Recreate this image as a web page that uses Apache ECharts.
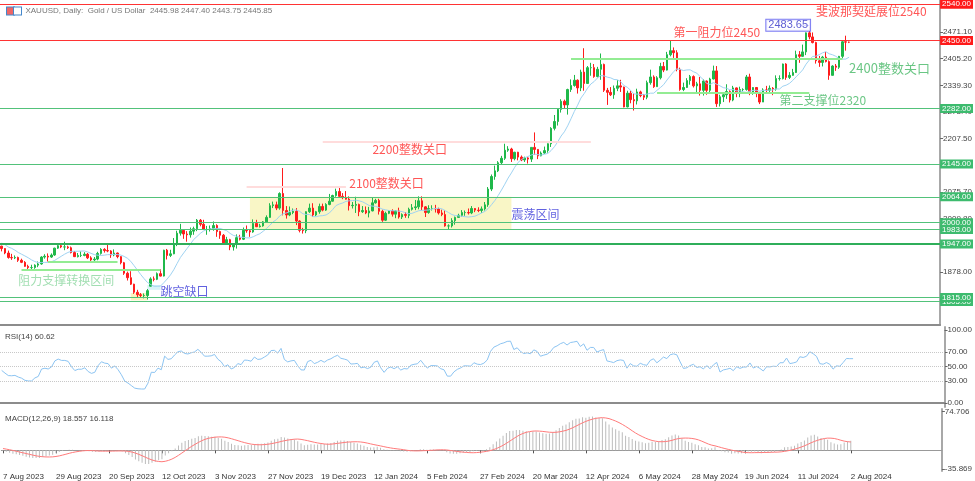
<!DOCTYPE html>
<html><head><meta charset="utf-8">
<script src="https://cdn.jsdelivr.net/npm/echarts@6/dist/echarts.min.js"></script>
<style>html,body{margin:0;padding:0;background:#fff}#c{width:975px;height:481px}</style>
</head><body><div id="c"></div>
<script>
// ---- DATA (XAUUSD daily, 7 Aug 2023 .. 2 Aug 2024) ----
const opens = [1942,1936,1925,1914,1913,1914,1907,1902,1892,1889,1889,1895,1898,1915,1917,1915,1920,1937,1943,1940,
1940,1938,1926,1916,1919,1919,1922,1913,1908,1910,1924,1934,1931,1930,1920,1925,1916,1901,1875,1864,
1848,1828,1822,1820,1820,1843,1861,1860,1874,1868,1932,1919,1923,1948,1974,1981,1972,1970,1979,1985,
2006,1996,1983,1983,1985,1993,1978,1969,1950,1958,1940,1946,1963,1959,1981,1980,1977,1998,1990,1992,
2002,2013,2042,2044,2036,2072,2030,2019,2025,2028,2004,1981,1980,2027,2036,2019,2027,2040,2031,2045,
2053,2067,2077,2065,2062,2058,2042,2043,2045,2027,2030,2024,2029,2049,2055,2028,2006,2023,2029,2021,
2029,2014,2020,2018,2033,2037,2039,2054,2039,2025,2035,2035,2034,2024,2020,1992,1992,2005,2013,2018,
2025,2025,2024,2035,2031,2030,2034,2044,2083,2114,2128,2148,2159,2179,2182,2158,2174,2162,2155,2160,
2157,2186,2181,2165,2172,2178,2195,2233,2250,2280,2300,2291,2329,2339,2352,2333,2372,2344,2383,2383,
2361,2379,2391,2327,2322,2316,2332,2338,2335,2286,2320,2304,2301,2323,2314,2310,2346,2360,2336,2358,
2386,2377,2415,2425,2420,2379,2329,2334,2351,2361,2338,2343,2327,2350,2327,2355,2375,2294,2311,2316,
2324,2303,2333,2319,2329,2329,2360,2322,2334,2319,2298,2328,2327,2332,2330,2356,2356,2392,2359,2364,
2371,2415,2411,2422,2469,2459,2445,2400,2396,2409,2398,2364,2387,2384,2411,2447,2445.98];
const highs = [1943,1937,1931,1923,1919,1916,1911,1905,1896,1896,1897,1904,1917,1922,1924,1924,1938,1949,1949,1953,
1943,1941,1930,1925,1929,1927,1925,1917,1915,1928,1937,1937,1947,1932,1934,1926,1917,1903,1879,1880,
1849,1834,1826,1825,1836,1865,1867,1877,1885,1933,1935,1933,1962,1980,1997,1983,1979,1988,1990,2009,
2009,2007,1992,1993,2003,1996,1980,1972,1965,1960,1947,1971,1970,1988,1993,1983,2008,2007,1997,2004,
2018,2048,2052,2052,2075,2135,2041,2040,2035,2036,2006,1987,2028,2047,2048,2029,2047,2047,2048,2071,
2069,2084,2088,2073,2078,2065,2051,2064,2047,2041,2040,2039,2062,2059,2059,2032,2027,2031,2033,2030,
2037,2023,2026,2037,2046,2056,2065,2065,2041,2043,2043,2044,2037,2032,2031,1996,2011,2015,2022,2031,
2030,2035,2041,2036,2038,2040,2051,2088,2119,2141,2152,2165,2195,2189,2185,2175,2175,2166,2163,2162,
2186,2223,2182,2176,2188,2196,2236,2266,2282,2305,2304,2331,2354,2365,2354,2378,2431,2387,2395,2392,
2385,2418,2393,2333,2335,2339,2352,2353,2336,2326,2326,2319,2331,2326,2318,2351,2378,2364,2362,2395,
2397,2422,2450,2433,2426,2383,2346,2357,2365,2364,2348,2360,2354,2351,2358,2388,2387,2316,2318,2342,
2327,2338,2334,2336,2332,2365,2368,2335,2335,2320,2332,2338,2339,2335,2364,2364,2393,2394,2372,2380,
2425,2424,2440,2470,2483.65,2470,2447,2412,2412,2422,2401,2389,2392,2412,2451,2462,2447.40];
const lows = [1929,1922,1911,1908,1910,1903,1900,1891,1884,1885,1886,1890,1896,1911,1904,1913,1918,1935,1937,1932,
1935,1924,1915,1914,1915,1917,1910,1901,1901,1907,1921,1926,1927,1913,1917,1912,1897,1871,1857,1846,
1824,1815,1816,1813,1810,1842,1855,1858,1867,1867,1909,1915,1922,1942,1968,1960,1953,1963,1970,1979,
1991,1983,1970,1978,1980,1965,1960,1947,1945,1932,1931,1936,1956,1957,1975,1965,1975,1989,1988,1990,
2001,2012,2036,2031,2032,2018,2010,2016,2021,1994,1976,1973,1974,2024,2014,2016,2022,2028,2029,2043,
2052,2064,2064,2058,2057,2030,2035,2024,2016,2024,2021,2013,2028,2047,2020,2002,2004,2021,2015,2011,
2010,2009,2012,2011,2030,2031,2033,2031,2014,2022,2030,2025,2020,2016,1990,1984,1988,1995,2012,2015,
2017,2020,2021,2026,2026,2024,2030,2039,2078,2106,2125,2144,2155,2175,2150,2154,2154,2152,2150,2146,
2150,2168,2157,2164,2170,2173,2187,2228,2240,2272,2281,2267,2323,2336,2319,2325,2326,2343,2363,2358,
2359,2353,2323,2291,2313,2306,2325,2323,2285,2285,2295,2277,2292,2310,2303,2305,2341,2333,2336,2354,
2372,2376,2411,2407,2374,2326,2325,2333,2341,2334,2322,2314,2314,2316,2318,2354,2286,2287,2298,2306,
2297,2300,2310,2310,2324,2326,2315,2316,2310,2293,2298,2318,2319,2315,2326,2351,2354,2353,2355,2363,
2370,2395,2410,2414,2453,2443,2393,2385,2386,2396,2353,2364,2375,2380,2406,2425,2443.75];
const closes = [1936,1925,1914,1913,1914,1907,1902,1892,1889,1889,1895,1898,1915,1917,1915,1920,1937,1943,1940,1940,
1938,1926,1916,1919,1919,1922,1913,1908,1910,1924,1934,1931,1930,1920,1925,1916,1901,1875,1864,1848,
1828,1822,1820,1820,1832,1861,1860,1874,1868,1932,1919,1923,1948,1974,1981,1972,1970,1979,1985,2006,
1996,1983,1983,1985,1993,1978,1969,1950,1958,1940,1946,1963,1959,1981,1980,1977,1998,1990,1992,2002,
2013,2042,2044,2036,2072,2030,2019,2025,2028,2004,1981,1980,2027,2036,2019,2027,2040,2031,2045,2053,
2067,2077,2065,2062,2058,2042,2043,2045,2027,2030,2024,2029,2049,2055,2028,2006,2023,2029,2021,2029,
2014,2020,2018,2033,2037,2039,2054,2039,2025,2035,2035,2034,2024,2020,1992,1992,2005,2013,2018,2025,
2025,2024,2035,2031,2030,2034,2044,2083,2114,2128,2148,2159,2179,2182,2158,2174,2162,2155,2160,2157,
2186,2181,2165,2172,2178,2195,2233,2250,2280,2300,2291,2329,2339,2352,2333,2372,2344,2383,2383,2361,
2379,2391,2327,2322,2316,2332,2338,2335,2286,2320,2304,2301,2323,2314,2310,2346,2360,2336,2358,2386,
2377,2415,2425,2420,2379,2329,2334,2351,2361,2338,2343,2327,2350,2327,2355,2375,2294,2311,2316,2324,
2303,2333,2319,2329,2329,2360,2322,2334,2319,2298,2328,2327,2332,2330,2356,2356,2392,2359,2364,2371,
2415,2411,2422,2469,2459,2445,2400,2396,2409,2398,2364,2387,2384,2411,2447,2446,2445.85];
// closes before the first visible bar (June-July 2023), used only to seed the indicators
const warmupCloses = [1977,1948,1962,1963,1940,1965,1961,1957,1943,1943,1958,1958,1950,1936,1932,1913,1921,1923,1913,1907,1908,1919,
1921,1925,1915,1910,1925,1925,1932,1957,1961,1955,1955,1979,1975,1970,1962,1955,1965,1972,1946,1959,1965,1944,1934,1934,1942];
const dateTickLabels = ['7 Aug 2023','29 Aug 2023','20 Sep 2023','12 Oct 2023','3 Nov 2023','27 Nov 2023','19 Dec 2023','12 Jan 2024','5 Feb 2024','27 Feb 2024','20 Mar 2024','12 Apr 2024','6 May 2024','28 May 2024','19 Jun 2024','11 Jul 2024','2 Aug 2024'];
const priceTicks = [2471.10,2405.20,2339.30,2273.40,2207.50,2141.60,2075.70,2009.80,1943.90,1878.00,1812.10];
const rsiTicks = [100,70,50,30,0];
const macdTicks = [74.706,-35.869];
const redLevels = [2540,2450];
const greenLevels = [2282,2145,2064,2000,1983,1805,1815];
const strongLevels = [1947];
const marketHolidays = ['2023-12-25','2024-01-01','2024-03-29'];
const headerText = 'XAUUSD, Daily:  Gold / US Dollar  2445.98 2447.40 2443.75 2445.85';
const rsiText = 'RSI(14) 60.62';
const macdText = 'MACD(12,26,9) 18.557 16.118';
const maPeriod = 10;

// ---- build categories (trading days) ----
const MONTHS = ['Jan','Feb','Mar','Apr','May','Jun','Jul','Aug','Sep','Oct','Nov','Dec'];
const TOTAL = 284;
const cats = [];
(function(){
  const d = new Date(Date.UTC(2023,7,7));
  while (cats.length < TOTAL) {
    const wd = d.getUTCDay(), iso = d.toISOString().slice(0,10);
    if (wd !== 0 && wd !== 6 && marketHolidays.indexOf(iso) < 0)
      cats.push(d.getUTCDate()+' '+MONTHS[d.getUTCMonth()]+' '+d.getUTCFullYear());
    d.setUTCDate(d.getUTCDate()+1);
  }
})();
const candles = closes.map((c,i)=>[opens[i],c,lows[i],highs[i]]);

// ---- indicators derived from closes ----
const allC = warmupCloses.concat(closes);
const W = warmupCloses.length;
function sma(arr,p){return arr.map((v,i)=>{if(i<p-1)return null;let s=0;for(let k=i-p+1;k<=i;k++)s+=arr[k];return s/p;});}
function ema(arr,p){const a=2/(p+1);const out=[];arr.forEach((v,i)=>out.push(i===0?v:out[i-1]+a*(v-out[i-1])));return out;}
const ma = sma(allC, maPeriod).slice(W).map(v=>v==null?null:+v.toFixed(2));
const e12 = ema(allC,12), e26 = ema(allC,26);
const macdAll = e12.map((v,i)=>v-e26[i]);
const sigAll = sma(macdAll,9);
const macd = macdAll.slice(W).map(v=>+v.toFixed(3));
const signal = sigAll.slice(W).map(v=>+v.toFixed(3));
const rsiAll = (function(){
  const p=14,out=new Array(allC.length).fill(null);let g=0,l=0;
  for(let i=1;i<=p;i++){const d=allC[i]-allC[i-1];if(d>0)g+=d;else l-=d;}
  g/=p;l/=p;out[p]=100-100/(1+g/(l||1e-9));
  for(let i=p+1;i<allC.length;i++){const d=allC[i]-allC[i-1];g=(g*(p-1)+(d>0?d:0))/p;l=(l*(p-1)+(d<0?-d:0))/p;out[i]=100-100/(1+g/(l||1e-9));}
  return out;})();
const rsi = rsiAll.slice(W).map(v=>+v.toFixed(2));

// ---- styles ----
const FONT = 'Liberation Sans';
const CJK = 'Noto Sans CJK SC';
const UP = '#1fb84a', DOWN = '#ff1c1c';
const RED = '#ff3333', GREEN = '#52c27a', LIGHTG = '#93ec93', PINK = '#ffdcdc';
const tagLabel = (bg)=>({show:true,position:'end',distance:0,formatter:p=>p.value.toFixed(2),color:'#fff',backgroundColor:bg,fontSize:8,fontFamily:FONT,padding:[1,2,0,2]});

const levelData = [];
redLevels.forEach(v=>levelData.push({yAxis:v,lineStyle:{color:RED,width:1,type:'solid'},label:tagLabel('#ff1a1a')}));
greenLevels.forEach(v=>levelData.push({yAxis:v,lineStyle:{color:GREEN,width:1,type:'solid'},label:tagLabel('#3dbb6e')}));
strongLevels.forEach(v=>levelData.push({yAxis:v,lineStyle:{color:'#2fae5a',width:2,type:'solid'},label:tagLabel('#3dbb6e')}));
const seg = (i1,i2,p,color,w)=>[{coord:[i1,p],lineStyle:{color:color,width:w,type:'solid'},label:{show:false}},{coord:[i2,p]}];
levelData.push(seg(172,254,2405,LIGHTG,2));
levelData.push(seg(198,244,2322,LIGHTG,2));
levelData.push(seg(97,178,2201,PINK,2));
levelData.push(seg(74,104,2088,PINK,2));
levelData.push(seg(14,35,1903,LIGHTG,2));
levelData.push(seg(6,48,1883,LIGHTG,2));
levelData.push(seg(241,244,2488,'#5555ff',1));

const annotations = [
  {i:4.5,p:1858,t:'阻力支撑转换区间',c:'#8ad69e',s:12},
  {i:48,p:1829,t:'跳空缺口',c:'#3a3ad8',s:12},
  {i:105,p:2098,t:'2100整数关口',c:'#ff2a2a',s:12},
  {i:112,p:2180,t:'2200整数关口',c:'#ff2a2a',s:12},
  {i:154,p:2021,t:'震荡区间',c:'#3a3ad8',s:12},
  {i:203,p:2471,t:'第一阻力位2450',c:'#ff2a2a',s:12},
  {i:246,p:2521,t:'斐波那契延展位2540',c:'#ff2a2a',s:12},
  {i:256,p:2382,t:'2400整数关口',c:'#45b865',s:13},
  {i:235,p:2303,t:'第二支撑位2320',c:'#45b865',s:12}
];

const chart = echarts.init(document.getElementById('c'), null, {renderer:'canvas'});
const gridL = -3, gridR = 30;
const xBase = (gi, extra)=>Object.assign({type:'category',gridIndex:gi,data:cats,boundaryGap:true,
  axisLabel:{show:false},axisTick:{show:false},splitLine:{show:false},
  axisLine:{show:true,lineStyle:{color:'#8c8c8c',width:2}}}, extra||{});
const showDate = (idx, val)=>dateTickLabels.indexOf(val)>=0;

chart.setOption({
  animation:false,
  backgroundColor:'#fff',
  title:[
    {text:'{a|}{b|}  '+headerText,left:2,top:2,textStyle:{fontSize:8,color:'#777',fontWeight:'normal',fontFamily:FONT,
      rich:{a:{width:7,height:7,backgroundColor:'#e66',borderColor:'#48c',borderWidth:1},b:{width:7,height:7,backgroundColor:'#fff',borderColor:'#48c',borderWidth:1}}}},
    {text:rsiText,left:0,top:328,textStyle:{fontSize:8,color:'#444',fontWeight:'normal',fontFamily:FONT}},
    {text:macdText,left:0,top:410,textStyle:{fontSize:8,color:'#444',fontWeight:'normal',fontFamily:FONT}}
  ],
  grid:[
    {left:gridL,right:gridR,top:0,height:325},
    {left:gridL,right:gridR,top:327,height:80},
    {left:gridL,right:gridR,top:409,height:62}
  ],
  xAxis:[
    xBase(0),
    xBase(1),
    xBase(2,{axisLine:{show:true,lineStyle:{color:'#999',width:1}},
      axisTick:{show:true,alignWithLabel:true,interval:showDate,length:3,lineStyle:{color:'#555'}},
      axisLabel:{show:true,interval:showDate,align:'left',margin:2,fontSize:8,color:'#333',fontFamily:FONT}})
  ],
  yAxis:[
    {type:'value',gridIndex:0,position:'right',min:1747.1,max:2550.2,splitLine:{show:false},
      axisLine:{show:true,lineStyle:{color:'#a8a8a8',width:2}},
      axisTick:{show:true,customValues:priceTicks,length:3,lineStyle:{color:'#666'}},
      axisLabel:{show:true,customValues:priceTicks,formatter:v=>v.toFixed(2),fontSize:8,color:'#444',margin:3,fontFamily:FONT}},
    {type:'value',gridIndex:1,position:'right',min:-5.5,max:104.1,splitLine:{show:false},
      axisLine:{show:true,lineStyle:{color:'#a8a8a8',width:2}},
      axisTick:{show:true,customValues:rsiTicks,length:3,lineStyle:{color:'#666'}},
      axisLabel:{show:true,customValues:rsiTicks,formatter:v=>v.toFixed(2),fontSize:8,color:'#444',margin:3,fontFamily:FONT}},
    {type:'value',gridIndex:2,position:'right',min:-39.68,max:79.5,splitLine:{show:false},
      axisLine:{show:true,lineStyle:{color:'#a8a8a8',width:2}},
      axisTick:{show:true,customValues:macdTicks,length:3,lineStyle:{color:'#666'}},
      axisLabel:{show:true,customValues:macdTicks,formatter:v=>String(v),fontSize:8,color:'#444',margin:3,fontFamily:FONT}}
  ],
  series:[
    {type:'line',xAxisIndex:0,yAxisIndex:0,data:[],z:1,silent:true,
      markArea:{silent:true,data:[
        [{coord:[75,2064],itemStyle:{color:'#f9f6c6'}},{coord:[154,1983]}],
        [{coord:[39,1826],itemStyle:{color:'#fbf3c0'}},{coord:[44,1808]}],
        [{coord:[44,1846],itemStyle:{color:'#d8f4f8'}},{coord:[48,1834]}]
      ]}},
    {type:'candlestick',xAxisIndex:0,yAxisIndex:0,data:candles,barWidth:2,z:3,
      itemStyle:{color:UP,color0:DOWN,borderColor:UP,borderColor0:DOWN,borderWidth:1},
      markLine:{silent:true,symbol:['none','none'],animation:false,data:levelData}},
    {type:'line',xAxisIndex:0,yAxisIndex:0,data:ma,showSymbol:false,symbol:'none',z:4,
      lineStyle:{color:'#9fd3f2',width:1}},
    {type:'scatter',xAxisIndex:0,yAxisIndex:0,symbolSize:0,z:6,silent:true,
      data:annotations.map(a=>({value:[a.i,a.p],label:{show:true,position:'right',distance:0,formatter:a.t,color:a.c,fontSize:a.s,fontFamily:CJK}}))},
    {type:'scatter',xAxisIndex:0,yAxisIndex:0,symbolSize:0,z:6,silent:true,
      data:[{value:[230.5,2488],label:{show:true,position:'right',distance:0,formatter:'2483.65',color:'#3535c8',fontSize:11,fontFamily:FONT,
        backgroundColor:'#fff',borderColor:'#5c5cf0',borderWidth:1,padding:[0,2,0,2]}}]},
    {type:'line',xAxisIndex:1,yAxisIndex:1,data:rsi,showSymbol:false,symbol:'none',lineStyle:{color:'#8cc4f2',width:1},
      markLine:{silent:true,symbol:['none','none'],label:{show:false},lineStyle:{color:'#c8c8c8',type:'dotted',width:1},
        data:[{yAxis:70},{yAxis:50},{yAxis:30}]}},
    {type:'bar',xAxisIndex:2,yAxisIndex:2,data:macd,barWidth:1,itemStyle:{color:'#bcbcbc'}},
    {type:'line',xAxisIndex:2,yAxisIndex:2,data:signal,showSymbol:false,symbol:'none',lineStyle:{color:'#ff7a7a',width:1}}
  ]
});
</script></body></html>
